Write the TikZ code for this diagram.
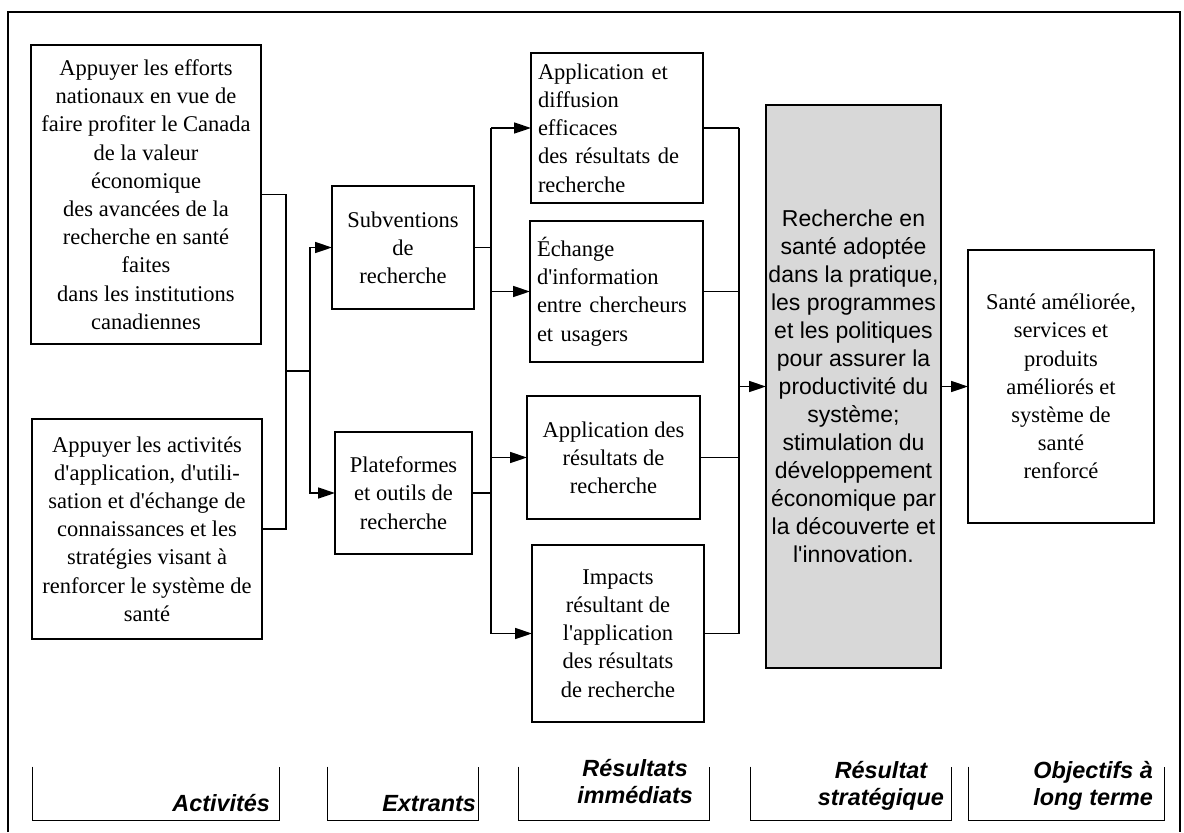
\documentclass[tikz,border=0pt]{standalone}
\usepackage{fontspec}
\setmainfont{Liberation Serif}[Ligatures=TeXOff]
\setsansfont{Liberation Sans}[Ligatures=TeXOff]
\usetikzlibrary{arrows.meta}

\definecolor{stratColor}{RGB}{216,216,216}

\tikzset{
  box/.style={draw, line width=0.7pt, inner sep=0pt, outer sep=0pt, align=center,
    font=\fontsize{11.25}{14.1}\selectfont},
  leftbox/.style={box, align=left, inner xsep=3.5pt},
  link/.style={line width=0.8pt},
  flow/.style={line width=0.8pt, -{Triangle[length=8.5pt,width=5.5pt]}},
  legendBox/.style={draw=none, inner sep=0pt, minimum height=26.5pt},
  legendText/.style={anchor=south east, align=center, inner sep=0pt,
    font=\sffamily\bfseries\itshape\fontsize{11.7}{13.5}\selectfont}
}

\begin{document}
\begin{tikzpicture}[x=0.5pt,y=-0.5pt]
  \useasboundingbox (0,0) rectangle (1184,832);
  % Frame
  \draw[line width=0.9pt] (8,832) -- (8,12) -- (1180,12) -- (1180,832);
  % Activities
  \node[box, minimum width=115pt, minimum height=149.5pt] (act1) at (146,194.5)
    {Appuyer les efforts\\nationaux en vue de\\faire profiter le Canada\\de la valeur\\économique\\des avancées de la\\recherche en santé\\faites\\dans les institutions\\canadiennes};
  \node[box, minimum width=115pt, minimum height=110pt] (act2) at (147,529)
    {Appuyer les activités\\d'application, d'utili-\\sation et d'échange de\\connaissances et les\\stratégies visant à\\renforcer le système de\\santé};
  % Outputs
  \node[box, minimum width=71pt, minimum height=61.5pt] (out1) at (403,247.5) {Subventions\\de\\recherche};
  \node[box, minimum width=68.5pt, minimum height=61pt] (out2) at (403.5,493) {Plateformes\\et outils de\\recherche};
  % Immediate results
  \node[leftbox, text width=79pt, minimum height=75pt] (res1) at (617,128)
    {Application et\\diffusion\\efficaces\\des résultats de\\recherche};
  \node[leftbox, text width=79.5pt, minimum height=70.5pt] (res2) at (616.5,291.5)
    {Échange\\d'information\\entre chercheurs\\et usagers};
  \node[box, minimum width=86.5pt, minimum height=61.5pt] (res3) at (613.5,457.5)
    {Application des\\résultats de\\recherche};
  \node[box, minimum width=86pt, minimum height=88.5pt] (res4) at (618,633.5)
    {Impacts\\résultant de\\l'application\\des résultats\\de recherche};
  % Strategic result and goal
  \node[box, fill=stratColor, font=\sffamily\fontsize{11.5}{14}\selectfont,
    minimum width=87.5pt, minimum height=281.5pt] (strat) at (853.5,386.5)
    {Recherche en\\santé adoptée\\dans la pratique,\\les programmes\\et les politiques\\pour assurer la\\productivité du\\système;\\stimulation du\\développement\\économique par\\la découverte et\\l'innovation.};
  \node[box, minimum width=93pt, minimum height=136.5pt] (goal) at (1061,386.5)
    {Santé améliorée,\\services et\\produits\\améliorés et\\système de\\santé\\renforcé};

  % Activities -> outputs
  \coordinate (actJoin) at (286,371);
  \coordinate (outSplit) at (310,371);
  \draw[link] (act1.east) -| (actJoin) |- (act2.east);
  \draw[link] (actJoin) -- (outSplit);
  \draw[flow] (outSplit) |- (out1.west);
  \draw[flow] (outSplit) |- (out2.west);
  % Outputs -> immediate results
  \coordinate (resSplit) at (491,380);
  \draw[link] (out1.east) -- (out1.east -| resSplit);
  \draw[link] (out2.east) -- (out2.east -| resSplit);
  \draw[link] (res1.west -| resSplit) -- (res4.west -| resSplit);
  \foreach \r in {res1,res2,res3,res4}
    \draw[flow] (\r.west -| resSplit) -- (\r.west);
  % Immediate results -> strategic result -> goal
  \coordinate (resJoin) at (739,386.5);
  \draw[link] (res1.east -| resJoin) -- (res4.east -| resJoin);
  \foreach \r in {res1,res2,res3,res4}
    \draw[link] (\r.east) -- (\r.east -| resJoin);
  \draw[flow] (strat.west -| resJoin) -- (strat.west);
  \draw[flow] (strat.east) -- (goal.west);

  % Legend
  \node[legendBox, minimum width=123pt] (lblAct) at (156,793.5) {};
  \node[legendBox, minimum width=75pt] (lblOut) at (403,793.5) {};
  \node[legendBox, minimum width=95pt] (lblRes) at (614,793.5) {};
  \node[legendBox, minimum width=100pt] (lblStrat) at (851,793.5) {};
  \node[legendBox, minimum width=97.5pt] (lblGoal) at (1066.5,793.5) {};
  \draw[line width=0.6pt] (lblAct.north west) -- (lblAct.south west) -- (lblAct.south east) -- (lblAct.north east);
  \draw[line width=0.6pt] (lblOut.north west) -- (lblOut.south west) -- (lblOut.south east) -- (lblOut.north east);
  \draw[line width=0.6pt] (lblRes.north west) -- (lblRes.south west) -- (lblRes.south east) -- (lblRes.north east);
  \draw[line width=0.6pt] (lblStrat.north west) -- (lblStrat.south west) -- (lblStrat.south east) -- (lblStrat.north east);
  \draw[line width=0.6pt] (lblGoal.north west) -- (lblGoal.south west) -- (lblGoal.south east) -- (lblGoal.north east);
  \node[legendText] (txtAct) at ([xshift=-4.5pt,yshift=4pt]lblAct.south east) {Activités};
  \node[legendText] (txtOut) at ([xshift=-1pt,yshift=4pt]lblOut.south east) {Extrants};
  \node[legendText] (txtRes) at ([xshift=-8pt,yshift=8pt]lblRes.south east) {Résultats\\immédiats};
  \node[legendText] (txtStrat) at ([xshift=-3.5pt,yshift=5pt]lblStrat.south east) {Résultat\\stratégique};
  \node[legendText] (txtGoal) at ([xshift=-5.5pt,yshift=5pt]lblGoal.south east) {Objectifs à\\long terme};
\end{tikzpicture}
\end{document}
